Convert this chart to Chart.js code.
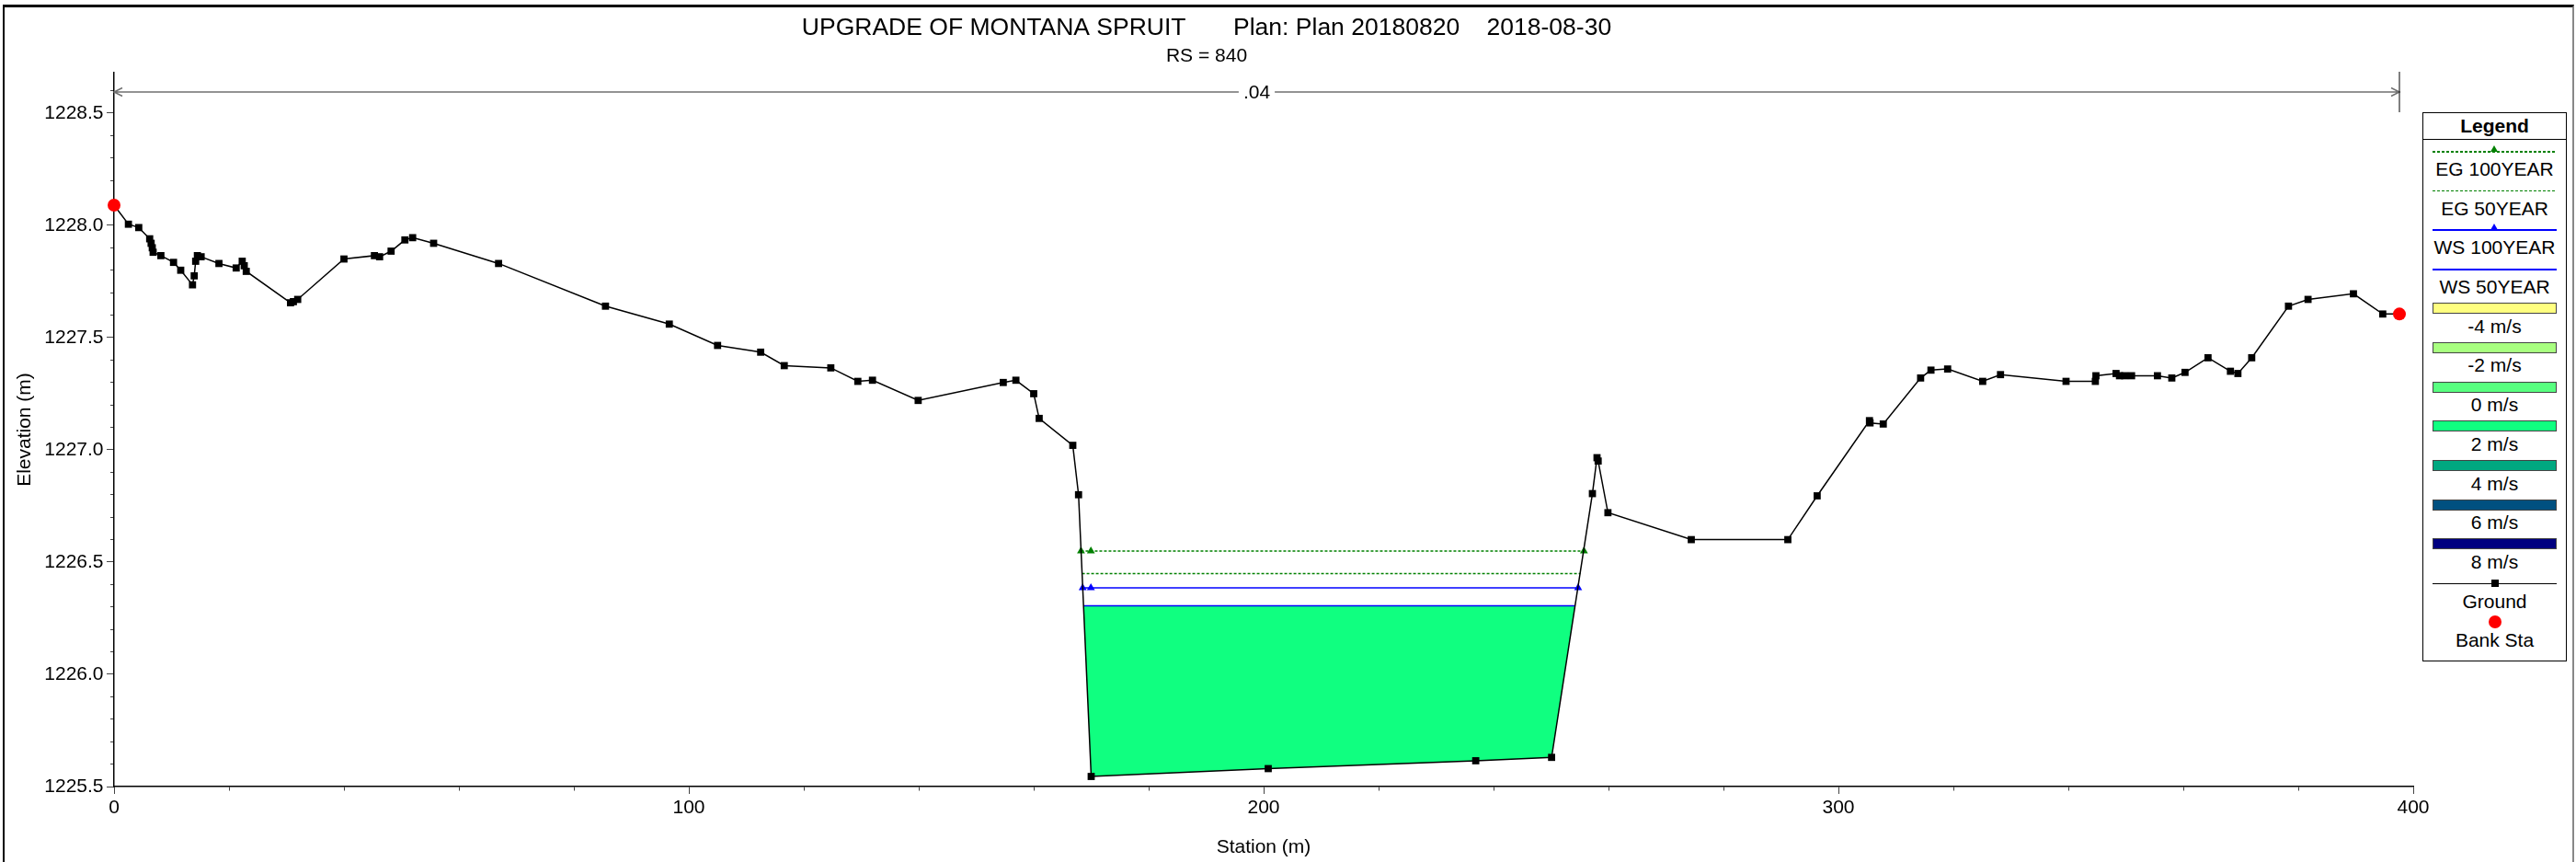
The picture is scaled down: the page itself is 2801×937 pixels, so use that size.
<!DOCTYPE html>
<html>
<head>
<meta charset="utf-8">
<title>UPGRADE OF MONTANA SPRUIT - RS 840</title>
<script src="https://cdn.jsdelivr.net/npm/chart.js@4.4.1/dist/chart.umd.min.js"></script>
<style>
  html, body { margin: 0; padding: 0; background: #fff; overflow: hidden; }
  body { width: 2801px; height: 937px; position: relative; font-family: Arial, 'Liberation Sans', sans-serif; color: #000; }
  #xs-chart { position: absolute; left: 0; top: 0; }

  /* window frame around the plot */
  .xs-frame {
    position: absolute; left: 3px; top: 5px; width: 2792px; height: 1000px;
    border-top: 3px solid #000; border-left: 2px solid #000; border-right: 2px solid #888;
    pointer-events: none;
  }

  /* legend box */
  .xs-legend {
    position: absolute; left: 2634px; top: 122px; width: 157px; height: 597px;
    box-sizing: border-box; border: 1.5px solid #000; background: #fff;
  }
  .xs-legend-head {
    height: 28px; line-height: 28px; text-align: center;
    font-weight: bold; font-size: 21px; border-bottom: 1px solid #000;
  }
  .xs-legend-item { position: relative; height: 42.7px; }
  .xs-legend-text {
    position: absolute; left: 0; right: 0; top: 21px;
    line-height: 22px; font-size: 21px; text-align: center; white-space: nowrap;
  }
  .xs-sample { position: absolute; left: 10px; width: 135px; }
  .xs-sample.line { top: 12px; height: 1.5px; }
  .xs-sample.rect { top: 6.5px; height: 12px; box-sizing: border-box; border: 1px solid #444; }
  .xs-marker { position: absolute; left: 50%; }
  .xs-marker.triangle {
    width: 0; height: 0; margin-left: -4.5px; top: -6px;
    border-left: 4.5px solid transparent; border-right: 4.5px solid transparent;
    border-bottom: 7px solid currentColor;
  }
  .xs-marker.square { width: 8px; height: 8px; margin-left: -4px; top: -3.5px; background: #000; }
  .xs-marker.dot { width: 14px; height: 14px; margin-left: -7px; top: 5px; border-radius: 50%; background: #f00; }
</style>
</head>
<body>
<canvas id="xs-chart" width="2801" height="937"></canvas>
<div class="xs-frame"></div>
<div class="xs-legend" id="xs-legend"></div>

<script>
// ─── Cross section data (RS = 840) ────────────────────────────────────────────
const GROUND_STATION = [
  0, 2.5, 4.3, 6.2, 6.45, 6.65, 6.8, 8.15, 10.35, 11.6,
  13.65, 13.95, 14.2, 14.5, 15.15, 18.25, 21.25, 22.3, 22.65, 23.0,
  30.7, 31.2, 31.95, 40.0, 45.3, 46.2, 48.2, 50.6, 51.95, 55.6,
  66.9, 85.5, 96.6, 105.0, 112.5, 116.6, 124.7, 129.4, 131.95, 139.9,
  154.7, 156.9, 160.0, 160.95, 166.8, 167.8, 170.0, 200.8, 236.9, 250.1,
  257.2, 258.0, 258.2, 259.9, 274.4, 291.2, 296.3, 305.4, 305.5, 307.8,
  314.3, 316.1, 319.0, 325.1, 328.2, 339.6, 344.7, 344.8, 348.3, 348.9,
  349.8, 351.0, 355.5, 358.0, 360.3, 364.3, 368.2, 369.5, 371.9, 378.3,
  381.7, 389.6, 394.7, 397.6,
];
const GROUND_ELEV = [
  1228.09, 1228.005, 1227.99, 1227.94, 1227.92, 1227.90, 1227.88, 1227.865, 1227.835, 1227.80,
  1227.735, 1227.775, 1227.84, 1227.865, 1227.86, 1227.83, 1227.81, 1227.84, 1227.82, 1227.795,
  1227.655, 1227.66, 1227.67, 1227.85, 1227.865, 1227.86, 1227.885, 1227.935, 1227.945, 1227.92,
  1227.83, 1227.64, 1227.56, 1227.465, 1227.435, 1227.375, 1227.365, 1227.305, 1227.31, 1227.22,
  1227.30, 1227.31, 1227.25, 1227.14, 1227.02, 1226.80, 1225.545, 1225.58, 1225.615, 1225.63,
  1226.805, 1226.965, 1226.95, 1226.72, 1226.60, 1226.60, 1226.795, 1227.13, 1227.12, 1227.115,
  1227.32, 1227.355, 1227.36, 1227.305, 1227.335, 1227.305, 1227.305, 1227.33, 1227.34, 1227.33,
  1227.33, 1227.33, 1227.33, 1227.32, 1227.345, 1227.41, 1227.35, 1227.34, 1227.41, 1227.64,
  1227.67, 1227.695, 1227.605, 1227.605,
];

const BANK_STATION = [0, 397.6];
const BANK_ELEV    = [1228.09, 1227.605];

// Water surface / energy grade profiles
const PROFILE_NAMES    = ['EG 100YEAR', 'EG 50YEAR', 'WS 100YEAR', 'WS 50YEAR'];
const PROFILE_ELEV     = [1226.549, 1226.449, 1226.385, 1226.305];
const PROFILE_STATIONS = [
  [168.23, 169.95, 255.73],
  [168.41, 255.11],
  [168.52, 169.95, 254.72],
  [168.66, 254.23],
];

// Manning's n along the section
const N_BREAKS = [0, 397.6];
const N_VALUES = ['.04'];

const VELOCITY_LABELS = ['-4 m/s', '-2 m/s', '0 m/s', '2 m/s', '4 m/s', '6 m/s', '8 m/s'];

const X_RANGE = [0, 400];
const Y_RANGE = [1225.5, 1228.68];

// ─── Styles ───────────────────────────────────────────────────────────────────
const FONT_FAMILY = 'Arial, "Liberation Sans", sans-serif';
const PROFILE_STYLE = [
  { color: '#008000', dash: [3, 2], marker: true },
  { color: '#008000', dash: [3, 2], marker: false },
  { color: '#0000ff', dash: [],     marker: true },
  { color: '#0000ff', dash: [],     marker: false },
];
const VELOCITY_COLORS = ['#ffff80', '#a8ff80', '#58ff80', '#10ff80', '#00a880', '#005080', '#000080'];
const WATER_FILL = '#10ff80';   // WS 50YEAR flow area, 0-2 m/s band
const GROUND_INDEX = 1;

Chart.defaults.font.family = FONT_FAMILY;
Chart.defaults.color = '#000';

const toPoints = (xs, ys) => xs.map((x, i) => ({ x, y: ys[i] }));
const isMajorX = v => Math.abs(v % 100) < 1e-6;
const isMajorY = v => Math.abs(v * 2 - Math.round(v * 2)) < 1e-6;

// ─── n-value arrows across the top of the plot ────────────────────────────────
const nValuePlugin = {
  id: 'nValues',
  afterDatasetsDraw(chart) {
    const { ctx, chartArea, scales: { x } } = chart;
    const y = chartArea.top + 21;
    ctx.save();
    ctx.font = `21px ${FONT_FAMILY}`;
    ctx.textAlign = 'center';
    ctx.textBaseline = 'middle';

    N_VALUES.forEach((label, i) => {
      const x1 = x.getPixelForValue(N_BREAKS[i]);
      const x2 = x.getPixelForValue(N_BREAKS[i + 1]);
      const mid = (x1 + x2) / 2;
      const half = ctx.measureText(label).width / 2 + 5;

      ctx.strokeStyle = '#707070';
      ctx.lineWidth = 1.5;
      ctx.beginPath();
      ctx.moveTo(x1, y); ctx.lineTo(mid - half, y);
      ctx.moveTo(mid + half, y); ctx.lineTo(x2, y);
      // open arrow heads
      ctx.moveTo(x1 + 9, y - 4.5); ctx.lineTo(x1, y); ctx.lineTo(x1 + 9, y + 4.5);
      ctx.moveTo(x2 - 9, y - 4.5); ctx.lineTo(x2, y); ctx.lineTo(x2 - 9, y + 4.5);
      ctx.stroke();

      ctx.fillStyle = '#000';
      ctx.fillText(label, mid, y + 1);
    });

    // break markers (the one at station 0 sits on the axis)
    ctx.strokeStyle = '#000';
    ctx.lineWidth = 1;
    N_BREAKS.forEach(s => {
      const px = x.getPixelForValue(s);
      if (Math.abs(px - chartArea.left) < 1) return;
      ctx.beginPath();
      ctx.moveTo(px, chartArea.top - 1);
      ctx.lineTo(px, chartArea.top + 43);
      ctx.stroke();
    });
    ctx.restore();
  },
};

// ─── Chart ────────────────────────────────────────────────────────────────────
function buildDatasets() {
  const profiles = PROFILE_NAMES.map((name, i) => {
    const style = PROFILE_STYLE[i];
    return {
      label: name,
      data: PROFILE_STATIONS[i].map(s => ({ x: s, y: PROFILE_ELEV[i] })),
      showLine: true,
      borderColor: style.color,
      borderWidth: 1.5,
      borderDash: style.dash,
      pointStyle: 'triangle',
      pointRadius: style.marker ? 5 : 0,
      pointBackgroundColor: style.color,
      pointBorderColor: style.color,
      pointBorderWidth: 0,
      fill: name === 'WS 50YEAR'
        ? { target: GROUND_INDEX, above: WATER_FILL, below: WATER_FILL }
        : false,
    };
  });

  return [
    {
      label: 'Bank Sta',
      data: toPoints(BANK_STATION, BANK_ELEV),
      showLine: false,
      pointStyle: 'circle',
      pointRadius: 7,
      pointBackgroundColor: '#ff0000',
      pointBorderColor: '#ff0000',
      pointBorderWidth: 0,
      clip: false,
    },
    {
      label: 'Ground',
      data: toPoints(GROUND_STATION, GROUND_ELEV),
      showLine: true,
      borderColor: '#000',
      borderWidth: 1.5,
      pointStyle: 'rect',
      pointRadius: 5.5,
      pointBackgroundColor: '#000',
      pointBorderColor: '#000',
      pointBorderWidth: 0,
      fill: false,
      clip: false,
    },
    ...profiles,
  ];
}

function renderChart() {
  const canvas = document.getElementById('xs-chart');
  new Chart(canvas, {
    type: 'scatter',
    data: { datasets: buildDatasets() },
    options: {
      responsive: false,
      animation: false,
      events: [],
      layout: { padding: { left: 0, right: 177, top: 0, bottom: 0 } },
      plugins: {
        legend:  { display: false },
        tooltip: { enabled: false },
        title: {
          display: true,
          text: 'UPGRADE OF MONTANA SPRUIT       Plan: Plan 20180820    2018-08-30',
          color: '#000',
          font: { size: 26.5, weight: 'normal' },
          padding: { top: 14.4, bottom: 1.5 },
        },
        subtitle: {
          display: true,
          text: 'RS = 840',
          color: '#000',
          font: { size: 21 },
          padding: { top: 1.4, bottom: 4.7 },
        },
      },
      scales: {
        x: {
          type: 'linear',
          position: 'bottom',
          min: X_RANGE[0],
          max: X_RANGE[1],
          border: { display: true, color: '#000', width: 1.5 },
          grid: {
            drawOnChartArea: false,
            drawTicks: true,
            tickLength: 8,
            tickColor: '#444',
            tickWidth: 1,
            tickBorderDash: c => (c.tick && !isMajorX(c.tick.value)) ? [4, 4] : [],
          },
          ticks: {
            stepSize: 20,
            autoSkip: false,
            maxRotation: 0,
            padding: 2.5,
            color: '#000',
            font: { size: 21 },
            callback: v => isMajorX(v) ? String(v) : '',
          },
          title: {
            display: true,
            text: 'Station (m)',
            color: '#000',
            font: { size: 21 },
            padding: { top: 0, bottom: 3 },
          },
          afterFit: s => { s.height = 82; },
        },
        y: {
          type: 'linear',
          position: 'left',
          min: Y_RANGE[0],
          max: Y_RANGE[1],
          border: { display: true, color: '#000', width: 1.5 },
          grid: {
            drawOnChartArea: false,
            drawTicks: true,
            tickLength: 8,
            tickColor: '#444',
            tickWidth: 1,
            tickBorderDash: c => (c.tick && !isMajorY(c.tick.value)) ? [4, 4] : [],
            tickBorderDashOffset: c => (c.tick && !isMajorY(c.tick.value)) ? 4 : 0,
          },
          ticks: {
            stepSize: 0.1,
            includeBounds: false,
            autoSkip: false,
            padding: 3.5,
            color: '#000',
            font: { size: 21 },
            callback: v => isMajorY(v) ? v.toFixed(1) : '',
          },
          title: {
            display: true,
            text: 'Elevation (m)',
            color: '#000',
            font: { size: 21 },
            padding: { top: 15, bottom: 0 },
          },
          afterFit: s => { s.width = 124; },
        },
      },
    },
    plugins: [nValuePlugin],
  });
}

// ─── Legend (HEC-RAS style box, symbol above label) ───────────────────────────
function renderLegend() {
  const box = document.getElementById('xs-legend');
  box.innerHTML = '<div class="xs-legend-head">Legend</div>';

  const addItem = (sampleHtml, label) => {
    const item = document.createElement('div');
    item.className = 'xs-legend-item';
    item.innerHTML = `${sampleHtml}<div class="xs-legend-text">${label}</div>`;
    box.appendChild(item);
  };

  PROFILE_NAMES.forEach((name, i) => {
    const style = PROFILE_STYLE[i];
    const bg = style.dash.length
      ? `repeating-linear-gradient(90deg, ${style.color} 0 3px, transparent 3px 5px)`
      : style.color;
    const marker = style.marker
      ? `<div class="xs-marker triangle" style="color:${style.color}"></div>` : '';
    addItem(`<div class="xs-sample line" style="background:${bg}">${marker}</div>`, name);
  });

  VELOCITY_LABELS.forEach((label, i) => {
    addItem(`<div class="xs-sample rect" style="background:${VELOCITY_COLORS[i]}"></div>`, label);
  });

  addItem('<div class="xs-sample line" style="background:#000;height:1px"><div class="xs-marker square"></div></div>', 'Ground');
  addItem('<div class="xs-marker dot"></div>', 'Bank Sta');
}

renderChart();
renderLegend();
</script>
</body>
</html>
